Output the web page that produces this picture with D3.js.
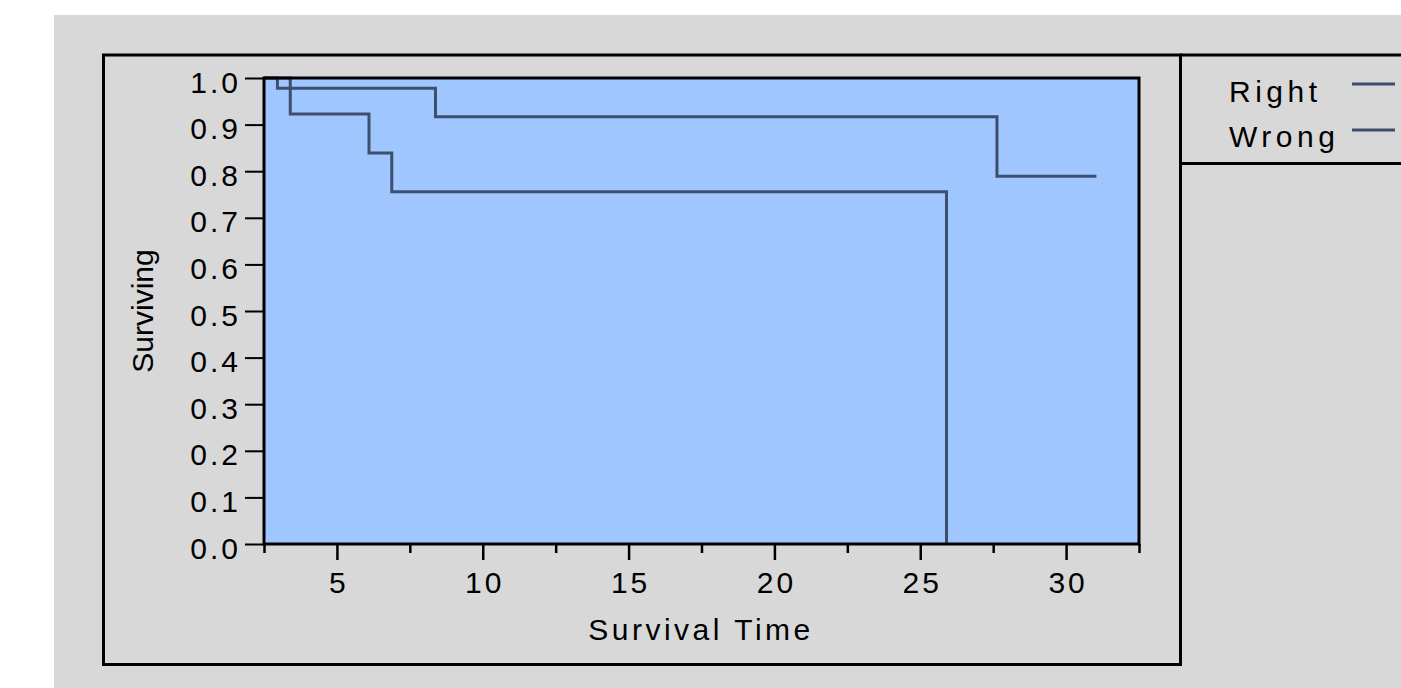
<!DOCTYPE html>
<html>
<head>
<meta charset="utf-8">
<script src="https://cdn.jsdelivr.net/npm/d3@7"></script>
<style>
  body { margin: 0; background: #fff; }
  text { font-family: "Liberation Sans", Arial, sans-serif; fill: #000; }
</style>
</head>
<body>
<svg id="chart" width="1401" height="688"></svg>
<script>
// survival steps
const groupNames = ["Right", "Wrong"]
const rightTimes = [2.96, 8.38, 27.63]
const rightSurv = [0.978, 0.917, 0.789]
const rightEnd = 31.04
const wrongTimes = [3.40, 6.10, 6.88, 25.90]
const wrongSurv = [0.923, 0.839, 0.756, 0.0]
const xMajorTicks = [5, 10, 15, 20, 25, 30]
const xMinorTicks = [2.5, 7.5, 12.5, 17.5, 22.5, 27.5, 32.5]
const yTicks = [0, 0.1, 0.2, 0.3, 0.4, 0.5, 0.6, 0.7, 0.8, 0.9, 1.0]

const svg = d3.select("#chart")
const lineColor = "#3e4f6d"

// grey panel + frames
svg.append("rect").attr("x", 54).attr("y", 15).attr("width", 1347).attr("height", 673).attr("fill", "#d8d8d8")
svg.append("rect").attr("x", 103.5).attr("y", 55).attr("width", 1077).attr("height", 609.5)
  .attr("fill", "none").attr("stroke", "#000").attr("stroke-width", 3)
svg.append("line").attr("x1", 1180).attr("x2", 1401).attr("y1", 55).attr("y2", 55).attr("stroke", "#000").attr("stroke-width", 3)
svg.append("line").attr("x1", 1180).attr("x2", 1401).attr("y1", 163.5).attr("y2", 163.5).attr("stroke", "#000").attr("stroke-width", 3)

const plot = { left: 264, top: 78, right: 1139, bottom: 544 }

let x = d3.scaleLinear().domain([2.5, 32.5]).range([plot.left, plot.right])
let y = d3.scaleLinear().domain([0, 1]).range([plot.bottom, plot.top])

svg.append("rect")
  .attr("x", plot.left).attr("y", plot.top)
  .attr("width", plot.right - plot.left).attr("height", plot.bottom - plot.top)
  .attr("fill", "#9fc6ff")

// x axis: long ticks at 5s, short ones between
let xMinor = svg.append("g").attr("transform", `translate(0,${plot.bottom})`)
  .call(d3.axisBottom(x).tickValues(xMinorTicks).tickSize(9).tickFormat(""))
let xMajor = svg.append("g").attr("transform", `translate(0,${plot.bottom})`)
  .call(d3.axisBottom(x).tickValues(xMajorTicks).tickSize(16).tickFormat(d3.format("d")))
xMinor.select(".domain").remove()
xMajor.select(".domain").remove()
svg.selectAll("g .tick line").attr("stroke", "#000").attr("stroke-width", 2.5)
xMajor.selectAll("text")
  .attr("y", 49).attr("dy", null).attr("dx", 1.5)
  .style("font-size", "30px").style("letter-spacing", "3px")
  .attr("font-family", null)

let yAxis = svg.append("g").attr("transform", `translate(${plot.left},0)`)
  .call(d3.axisLeft(y).tickValues(yTicks).tickSize(19).tickFormat(d3.format(".1f")))
yAxis.select(".domain").remove()
yAxis.selectAll(".tick line").attr("stroke", "#000").attr("stroke-width", 2)
yAxis.selectAll("text")
  .attr("x", -23).attr("y", 14).attr("dy", null)
  .style("font-size", "30px").style("letter-spacing", "3px")
  .attr("font-family", null)

// step curves
function steps(times, surv, end) {
  let pts = [{ t: 2.5, s: 1 }]
  times.forEach((t, i) => pts.push({ t: t, s: surv[i] }))
  if (end != null) pts.push({ t: end, s: surv[surv.length - 1] })
  return pts
}
let line = d3.line().x(d => x(d.t)).y(d => y(d.s)).curve(d3.curveStepAfter)

svg.append("path").datum(steps(rightTimes, rightSurv, rightEnd))
  .attr("d", line).attr("fill", "none").attr("stroke", lineColor).attr("stroke-width", 3)
svg.append("path").datum(steps(wrongTimes, wrongSurv, null))
  .attr("d", line).attr("fill", "none").attr("stroke", lineColor).attr("stroke-width", 3)

// plot border on top
svg.append("rect")
  .attr("x", plot.left).attr("y", plot.top)
  .attr("width", plot.right - plot.left).attr("height", plot.bottom - plot.top)
  .attr("fill", "none").attr("stroke", "#000").attr("stroke-width", 3)

// axis titles
svg.append("text").attr("x", 701).attr("y", 640).attr("text-anchor", "middle")
  .style("font-size", "30px").style("letter-spacing", "3.5px").text("Survival Time")
svg.append("text").attr("transform", "translate(153,311) rotate(-90)").attr("text-anchor", "middle")
  .style("font-size", "30px").text("Surviving")

// legend
const legendY = [102, 147]
const legendLineY = [84, 130]
groupNames.forEach((name, i) => {
  svg.append("text").attr("x", 1229).attr("y", legendY[i])
    .style("font-size", "30px").style("letter-spacing", "4.5px").text(name)
  svg.append("line").attr("x1", 1352).attr("x2", 1395).attr("y1", legendLineY[i]).attr("y2", legendLineY[i])
    .attr("stroke", lineColor).attr("stroke-width", 3)
})
</script>
</body>
</html>
